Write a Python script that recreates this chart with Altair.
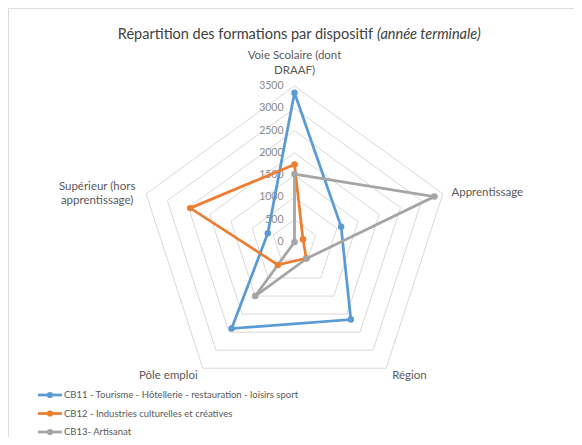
import math
import altair as alt
import pandas as pd

# ---------------- data ----------------
axes_labels = [
    ["Voie Scolaire (dont", "DRAAF)"],
    ["Apprentissage"],
    ["Région"],
    ["Pôle emploi"],
    ["Supérieur (hors", "apprentissage)"],
]
series_names = [
    "CB11 - Tourisme - Hôtellerie - restauration - loisirs sport",
    "CB12 - Industries culturelles et créatives",
    "CB13- Artisanat",
]
cb11 = [3350, 1100, 2150, 2400, 630]
cb12 = [1740, 200, 450, 635, 2460]
cb13 = [1525, 3300, 460, 1500, 0]
ticks = [0, 500, 1000, 1500, 2000, 2500, 3000, 3500]
colors = ["#5b9bd5", "#ed7d31", "#a5a5a5"]

# ---------------- layout ----------------
W, H = 566, 429
CX, CY = 286.5, 234.0      # centre of the radar in plot pixels
RPX = 156.0                # pixel radius of max tick
RMAX = ticks[-1]
k = RPX / RMAX
xdom = [-CX / k, (W - CX) / k]
ydom = [-(H - CY) / k, CY / k]
xs = alt.Scale(domain=xdom, nice=False, zero=False)
ys = alt.Scale(domain=ydom, nice=False, zero=False)
N = len(axes_labels)

def ang(i):
    return 2 * math.pi * i / N

# series table
rows = []
for s, vals in zip(series_names, [cb11, cb12, cb13]):
    for j in range(N + 1):
        i = j % N
        rows.append({"series": s, "idx": i, "ord": j, "value": vals[i]})
sdf = pd.DataFrame(rows)

# grid rings
grows = []
for t in ticks[1:]:
    for j in range(N + 1):
        grows.append({"ring": t, "idx": j % N, "ord": j, "value": t})
gdf = pd.DataFrame(grows)

def polar(chart):
    return chart.transform_calculate(
        a="2*PI*datum.idx/" + str(N)
    ).transform_calculate(
        x="datum.value*sin(datum.a)", y="datum.value*cos(datum.a)"
    )

X = alt.X("x:Q", scale=xs, axis=None)
Y = alt.Y("y:Q", scale=ys, axis=None)
color = alt.Color("series:N", scale=alt.Scale(domain=series_names, range=colors), legend=None)

rings = polar(alt.Chart(gdf)).mark_line(color="#d9d9d9", strokeWidth=1).encode(
    x=X, y=Y, detail="ring:N", order="ord:Q"
)

lines = polar(alt.Chart(sdf)).mark_line(strokeWidth=2.75).encode(
    x=X, y=Y, color=color, detail="series:N", order="ord:Q"
)
points = polar(alt.Chart(sdf[sdf.ord < N])).mark_circle(size=42, opacity=1).encode(
    x=X, y=Y, color=color
)

tdf = pd.DataFrame({"tick": ticks, "zero": [0] * len(ticks)})
tick_labels = alt.Chart(tdf).mark_text(
    align="right", baseline="middle", dx=-11, fontSize=10.5, font="Lato", color="#8c8c8c"
).encode(
    x=alt.X("zero:Q", scale=xs, axis=None),
    y=alt.Y("tick:Q", scale=ys, axis=None),
    text=alt.Text("tick:Q", format="d"),
)

# axis labels
label_specs = [
    # idx, radius (px), align, dx, dy
    (0, 186, "center", 0, 0),
    (1, 165, "left", 0, 2),
    (2, RPX, "left", 6, 8),
    (3, RPX, "right", -5, 8),
    (4, RPX, "center", -49, -7),
]
label_layers = []
for idx, rpx, al, dx, dy in label_specs:
    r = rpx / k
    ldf = pd.DataFrame({
        "lx": [r * math.sin(ang(idx))],
        "ly": [r * math.cos(ang(idx))],
        "txt": [axes_labels[idx]],
    })
    label_layers.append(
        alt.Chart(ldf).mark_text(
            align=al, baseline="middle", dx=dx, dy=dy, fontSize=11.5, font="Lato",
            color="#595959", lineHeight=14.5,
        ).encode(
            x=alt.X("lx:Q", scale=xs, axis=None),
            y=alt.Y("ly:Q", scale=ys, axis=None),
            text="txt",
        )
    )

# legend (rows below the radar)
leg_top_px = 387.0
leg_step = 18.5
legrows = []
for i, s in enumerate(series_names):
    ypx = leg_top_px + leg_step * i
    legrows.append({
        "series": s,
        "y": (CY - ypx) / k,
        "x0": (30 - CX) / k,
        "x1": (54 - CX) / k,
        "xm": (42 - CX) / k,
        "xt": (56 - CX) / k,
    })
ldf = pd.DataFrame(legrows)
leg_rule = alt.Chart(ldf).mark_rule(strokeWidth=2.75).encode(
    x=alt.X("x0:Q", scale=xs, axis=None), x2="x1:Q",
    y=alt.Y("y:Q", scale=ys, axis=None), color=color,
)
leg_pt = alt.Chart(ldf).mark_circle(size=38, opacity=1).encode(
    x=alt.X("xm:Q", scale=xs, axis=None),
    y=alt.Y("y:Q", scale=ys, axis=None), color=color,
)
leg_txt = alt.Chart(ldf).mark_text(
    align="left", baseline="middle", fontSize=9.5, font="Lato", color="#595959"
).encode(
    x=alt.X("xt:Q", scale=xs, axis=None),
    y=alt.Y("y:Q", scale=ys, axis=None), text="series:N",
)

# title (regular + italic part)
title_df = pd.DataFrame({"a": ["Répartition des formations par dispositif"], "b": ["(année terminale)"]})
title_a = alt.Chart(title_df).mark_text(
    align="right", baseline="middle", fontSize=14.5, font="Lato", color="#404040"
).encode(x=alt.value(365), y=alt.value(27), text="a:N")
title_b = alt.Chart(title_df).mark_text(
    align="left", baseline="middle", fontSize=14.5, font="Lato", fontStyle="italic", color="#404040"
).encode(x=alt.value(369), y=alt.value(27), text="b:N")

chart = alt.layer(
    rings, tick_labels, lines, points, *label_layers, leg_rule, leg_pt, leg_txt, title_a, title_b
).properties(
    width=W, height=H, padding=0, autosize=alt.AutoSizeParams(type="none")
).configure_view(stroke=None).configure(background="white")

chart.save("out.html", embed_options={"renderer": "svg", "actions": False})
